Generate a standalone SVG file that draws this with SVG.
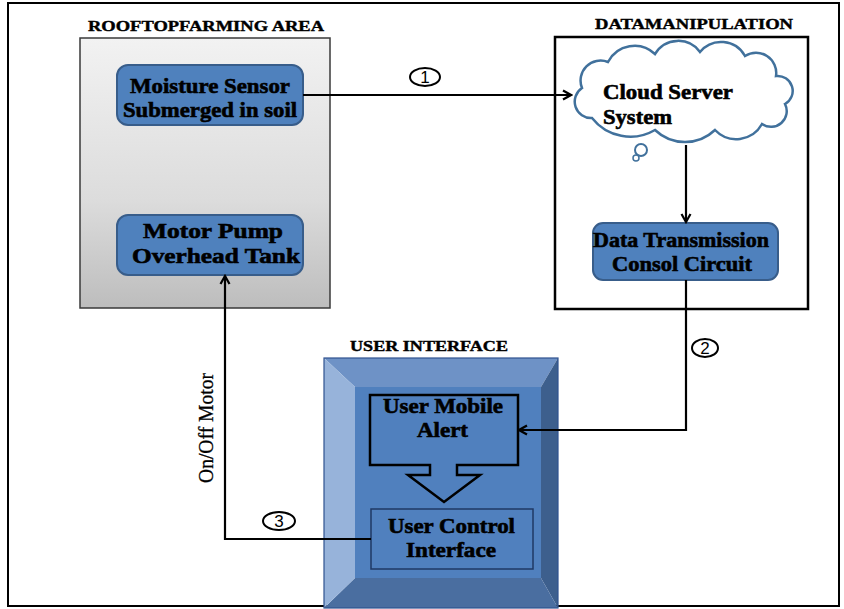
<svg xmlns="http://www.w3.org/2000/svg" width="844" height="609" viewBox="0 0 844 609">
<style>
.t{font-family:"Liberation Serif","Times New Roman",serif;font-weight:bold;fill:#000;stroke:#000}
.title{font-size:15px;stroke-width:0.4}
.node{font-size:21.5px;stroke-width:0.6}
.blue{fill:#4f81bd;stroke:#385d8a;stroke-width:2}
.ln{fill:none;stroke:#000;stroke-width:2.2}
.num{font-family:"Liberation Sans",Arial,sans-serif;font-size:17px;fill:#000}
.ell{fill:#fff;stroke:#000;stroke-width:2}
</style>
<defs>
<linearGradient id="gray" x1="0" y1="0" x2="0" y2="1">
<stop offset="0" stop-color="#f2f2f2"/>
<stop offset="0.6" stop-color="#dcdcdc"/>
<stop offset="1" stop-color="#bdbdbd"/>
</linearGradient>
<marker id="arr" markerWidth="12" markerHeight="12" refX="10" refY="6" orient="auto" markerUnits="userSpaceOnUse">
<path d="M2,1.5 L10,6 L2,10.5" fill="none" stroke="#000" stroke-width="2.2"/>
</marker>
</defs>
<rect x="0" y="0" width="844" height="609" fill="#fff"/>
<rect x="8" y="3" width="831" height="603" fill="none" stroke="#000" stroke-width="2"/>

<g id="rooftop-area">
<text class="t title" x="88" y="31" textLength="236" lengthAdjust="spacingAndGlyphs">ROOFTOPFARMING AREA</text>
<rect x="80" y="38" width="250" height="270" fill="url(#gray)" stroke="#3a3a3a" stroke-width="1.5"/>
</g>

<g id="moisture-sensor">
<rect class="blue" x="117" y="65" width="186" height="60" rx="11"/>
<text class="t node" x="130" y="93" textLength="160" lengthAdjust="spacingAndGlyphs">Moisture Sensor</text>
<text class="t node" x="123" y="117" textLength="174" lengthAdjust="spacingAndGlyphs">Submerged in soil</text>
</g>

<g id="motor-pump">
<rect class="blue" x="117" y="215" width="186" height="60" rx="11"/>
<text class="t node" x="143" y="238" textLength="140" lengthAdjust="spacingAndGlyphs">Motor Pump</text>
<text class="t node" x="132" y="263" textLength="168" lengthAdjust="spacingAndGlyphs">Overhead Tank</text>
</g>

<g id="data-manipulation">
<text class="t title" x="595" y="29" textLength="198" lengthAdjust="spacingAndGlyphs">DATAMANIPULATION</text>
<rect x="555" y="37" width="253" height="272" fill="#fff" stroke="#000" stroke-width="2.5"/>
</g>

<g id="cloud-server">
<path d="M592,118 A16.4,16.4 0 0 1 582,88 A20,20 0 0 1 608,62 A29.7,29.7 0 0 1 655,54 A27,27 0 0 1 700,52 A27.3,27.3 0 0 1 745,56 A20.2,20.2 0 0 1 776,76 A15,15 0 0 1 785,104 A15.7,15.7 0 0 1 762,124 A29.4,29.4 0 0 1 715,130 A43.5,43.5 0 0 1 655,130 A48.8,48.8 0 0 1 592,118 Z" fill="#fff" stroke="#41719c" stroke-width="2.5"/>
<circle cx="641" cy="150" r="6" fill="#fff" stroke="#41719c" stroke-width="2"/>
<circle cx="636" cy="158" r="3" fill="#fff" stroke="#41719c" stroke-width="1.5"/>
<text class="t node" x="603" y="99" textLength="130" lengthAdjust="spacingAndGlyphs">Cloud Server</text>
<text class="t node" x="603" y="124" textLength="69" lengthAdjust="spacingAndGlyphs">System</text>
</g>

<g id="data-transmission">
<rect class="blue" x="593" y="223" width="185" height="57" rx="10"/>
<text class="t node" x="593" y="247" textLength="176" lengthAdjust="spacingAndGlyphs">Data Transmission</text>
<text class="t node" x="612" y="271" textLength="140" lengthAdjust="spacingAndGlyphs">Consol Circuit</text>
</g>

<g id="user-interface">
<text class="t title" x="350" y="351" textLength="158" lengthAdjust="spacingAndGlyphs">USER INTERFACE</text>
<polygon points="324,358 558,358 541,387 355,387" fill="#6e92c6"/>
<polygon points="558,358 558,608 541,578 541,387" fill="#3d5f8d"/>
<polygon points="558,608 324,608 355,578 541,578" fill="#4a6ea0"/>
<polygon points="324,608 324,358 355,387 355,578" fill="#97b3da"/>
<rect x="355" y="387" width="186" height="191" fill="#5080be"/>
<rect x="324" y="358" width="234" height="250" fill="none" stroke="#2f528f" stroke-width="1.2"/>
</g>

<g id="user-mobile-alert">
<path d="M370,395 H518 V465 H457 V475 H480 L444,502 L408,475 H430 V465 H370 Z" fill="#5080be" stroke="#000" stroke-width="2.5" stroke-linejoin="miter"/>
<text class="t node" x="383" y="413" textLength="120" lengthAdjust="spacingAndGlyphs">User Mobile</text>
<text class="t node" x="417" y="437" textLength="51" lengthAdjust="spacingAndGlyphs">Alert</text>
</g>

<g id="user-control-interface">
<rect x="371" y="509" width="162" height="60" fill="#5080be" stroke="#1f3864" stroke-width="1.5"/>
<text class="t node" x="388" y="533" textLength="127" lengthAdjust="spacingAndGlyphs">User Control</text>
<text class="t node" x="406" y="557" textLength="90" lengthAdjust="spacingAndGlyphs">Interface</text>
</g>

<g id="connectors">
<line class="ln" x1="303" y1="95" x2="571" y2="95" marker-end="url(#arr)"/>
<line class="ln" x1="686" y1="145" x2="686" y2="222" marker-end="url(#arr)"/>
<polyline class="ln" points="686,280 686,430 519,430" marker-end="url(#arr)"/>
<polyline class="ln" points="371,539 225,539 225,276" marker-end="url(#arr)"/>
<ellipse class="ell" cx="425" cy="77" rx="15" ry="9"/>
<text class="num" x="425" y="83" text-anchor="middle">1</text>
<ellipse class="ell" cx="705" cy="348" rx="13" ry="9"/>
<text class="num" x="705" y="354" text-anchor="middle">2</text>
<ellipse class="ell" cx="279" cy="521" rx="16" ry="9"/>
<text class="num" x="279" y="527" text-anchor="middle">3</text>
<text x="213" y="483" transform="rotate(-90 213 483)" font-family="Liberation Serif,Times New Roman,serif" font-size="20" stroke="#000" stroke-width="0.3" textLength="110" lengthAdjust="spacingAndGlyphs">On/Off Motor</text>
</g>
</svg>
